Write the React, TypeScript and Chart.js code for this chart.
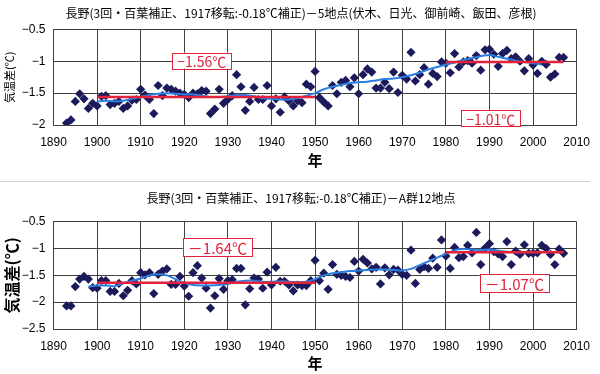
import React, { useEffect, useRef } from 'react';
import { Chart, registerables } from 'chart.js';
Chart.register(...registerables);

// ---------- data ----------
const years = [
  1893, 1894, 1895, 1896, 1897, 1898, 1899, 1900, 1901, 1902, 1903, 1904, 1905, 1906, 1907, 1908, 1909,
  1910, 1911, 1912, 1913, 1914, 1915, 1916, 1917, 1918, 1919, 1920, 1921, 1922, 1923, 1924, 1925, 1926,
  1927, 1928, 1929, 1930, 1931, 1932, 1933, 1934, 1935, 1936, 1937, 1938, 1939, 1940, 1941, 1942, 1943,
  1944, 1945, 1946, 1947, 1948, 1949, 1950, 1951, 1952, 1953, 1954, 1955, 1956, 1957, 1958, 1959, 1960,
  1961, 1962, 1963, 1964, 1965, 1966, 1967, 1968, 1969, 1970, 1971, 1972, 1973, 1974, 1975, 1976, 1977,
  1978, 1979, 1980, 1981, 1982, 1983, 1984, 1985, 1986, 1987, 1988, 1989, 1990, 1991, 1992, 1993, 1994,
  1995, 1996, 1997, 1998, 1999, 2000, 2001, 2002, 2003, 2004, 2005, 2006, 2007,
];

// 長野 − 5地点
const diffFive = [
  -1.97, -1.92, -1.63, -1.51, -1.59, -1.74, -1.66, -1.70, -1.55, -1.54, -1.68, -1.66, -1.63, -1.74, -1.70, -1.61, -1.60,
  -1.44, -1.53, -1.60, -1.82, -1.38, -1.54, -1.42, -1.44, -1.47, -1.50, -1.52, -1.57, -1.50, -1.51, -1.46, -1.47, -1.82,
  -1.75, -1.44, -1.66, -1.60, -1.54, -1.21, -1.40, -1.77, -1.63, -1.41, -1.60, -1.60, -1.38, -1.70, -1.59, -1.80, -1.56,
  -1.62, -1.70, -1.62, -1.65, -1.36, -1.40, -1.16, -1.57, -1.64, -1.70, -1.38, -1.51, -1.33, -1.30, -1.40, -1.26, -1.51,
  -1.21, -1.12, -1.17, -1.42, -1.42, -1.33, -1.43, -1.17, -1.49, -1.22, -1.28, -0.86, -1.31, -1.21, -1.10, -1.36, -1.19,
  -1.24, -1.01, -1.03, -1.18, -0.88, -1.09, -1.01, -0.99, -1.03, -0.91, -1.14, -0.82, -0.81, -0.89, -1.08, -0.88, -0.83,
  -0.96, -0.93, -1.00, -1.15, -0.96, -1.06, -1.19, -1.00, -1.05, -1.25, -1.20, -0.94, -0.94,
];

// 長野 − A群12地点
const diffA12 = [
  -2.07, -2.07, -1.71, -1.57, -1.52, -1.57, -1.73, -1.74, -1.60, -1.60, -1.80, -1.80, -1.65, -1.88, -1.78, -1.60, -1.66,
  -1.45, -1.49, -1.45, -1.84, -1.48, -1.42, -1.38, -1.67, -1.67, -1.52, -1.70, -1.89, -1.45, -1.32, -1.55, -1.74, -2.11,
  -1.88, -1.56, -1.76, -1.60, -1.58, -1.37, -1.37, -2.05, -1.75, -1.55, -1.57, -1.74, -1.44, -1.68, -1.35, -1.61, -1.61,
  -1.68, -1.79, -1.68, -1.69, -1.69, -1.60, -1.22, -1.60, -1.46, -1.76, -1.30, -1.48, -1.50, -1.52, -1.54, -1.24, -1.42,
  -1.20, -1.27, -1.38, -1.35, -1.66, -1.36, -1.49, -1.39, -1.40, -1.48, -1.50, -1.03, -1.65, -1.39, -1.34, -1.37, -1.18,
  -1.35, -0.84, -1.14, -1.37, -0.98, -1.17, -1.15, -0.94, -1.08, -0.70, -1.30, -0.99, -0.91, -1.06, -1.10, -1.15, -0.87,
  -1.30, -1.05, -1.11, -0.93, -1.09, -1.09, -1.08, -0.94, -1.00, -1.11, -1.30, -1.01, -1.09,
];

// smoothed (blue) curves
const smoothYearsFive = [
  1900, 1902, 1904, 1906, 1908, 1910, 1912, 1914, 1916, 1918, 1920, 1922, 1924, 1926, 1928, 1930, 1932, 1934,
  1936, 1938, 1940, 1942, 1944, 1946, 1948, 1950, 1952, 1954, 1956, 1958, 1960, 1962, 1964, 1966, 1968, 1970,
  1972, 1974, 1976, 1978, 1980, 1982, 1984, 1986, 1988, 1990, 1992, 1994, 1996, 1998, 2000, 2002,
];
const smoothFive = [
  -1.63, -1.62, -1.63, -1.62, -1.59, -1.56, -1.53, -1.51, -1.50, -1.51, -1.52, -1.52, -1.54, -1.56, -1.56, -1.55, -1.53, -1.53,
  -1.55, -1.58, -1.59, -1.60, -1.60, -1.58, -1.54, -1.50, -1.44, -1.40, -1.37, -1.34, -1.33, -1.32, -1.30, -1.28, -1.27, -1.25,
  -1.22, -1.18, -1.13, -1.09, -1.05, -1.02, -0.98, -0.95, -0.92, -0.90, -0.93, -0.96, -0.99, -1.01, -1.03, -1.05,
];
const smoothYearsA12 = [
  1898, 1900, 1902, 1904, 1906, 1908, 1910, 1912, 1914, 1916, 1918, 1920, 1922, 1924, 1926, 1928, 1930, 1932,
  1934, 1936, 1938, 1940, 1942, 1944, 1946, 1948, 1950, 1952, 1954, 1956, 1958, 1960, 1962, 1964, 1966, 1968,
  1970, 1972, 1974, 1976, 1978, 1980, 1982, 1984, 1986, 1988, 1990, 1992, 1994, 1996, 1998, 2000, 2002,
];
const smoothA12 = [
  -1.71, -1.69, -1.69, -1.70, -1.65, -1.60, -1.56, -1.50, -1.48, -1.50, -1.57, -1.64, -1.68, -1.69, -1.69, -1.68, -1.66, -1.62,
  -1.60, -1.60, -1.62, -1.62, -1.61, -1.62, -1.63, -1.62, -1.57, -1.50, -1.46, -1.44, -1.42, -1.41, -1.40, -1.39, -1.39, -1.40,
  -1.41, -1.38, -1.31, -1.24, -1.17, -1.10, -1.03, -1.01, -1.02, -1.03, -1.02, -1.04, -1.06, -1.07, -1.07, -1.07, -1.06,
];

// period means (red)
const meanPeriodStart = [1900, 1980];
const meanPeriodEnd = [1950, 2007];
const meansFive = [-1.56, -1.01];
const meansA12 = [-1.64, -1.07];
const meanLabelsFive = ['−1.56℃', '−1.01℃'];
const meanLabelsA12 = ['－1.64℃', '－1.07℃'];

const yTicksFive = [-2, -1.5, -1, -0.5];
const yTicksA12 = [-2.5, -2, -1.5, -1, -0.5];

const TITLE_FIVE = '長野(3回・百葉補正、1917移転:-0.18℃補正)－5地点(伏木、日光、御前崎、飯田、彦根)';
const TITLE_A12 = '長野(3回・百葉補正、1917移転:-0.18℃補正)－A群12地点';

// ---------- styles ----------
const CJK = '"Noto Sans CJK JP", "Noto Sans", sans-serif';
const LATIN = '"Liberation Sans", Arial, sans-serif';
const NAVY = '#1b1b5c';
const RED = '#e3223c';
const BLUE = '#2b7fe3';
const GRID = '#404040';
const PAD_LEFT = 20;
const PLOT_LEFT = 53.5;

const fmtY = (v: number) => {
  const s = String(Math.abs(v));
  return v < 0 ? '−' + s : s;
};

const labelPlugin = {
  id: 'meanLabels',
  afterDatasetsDraw(chart: any, _args: any, opts: any) {
    const { ctx } = chart;
    const xs = chart.scales.x;
    const ys = chart.scales.y;
    (opts.items || []).forEach((it: any) => {
      ctx.save();
      ctx.font = `${opts.size}px ${CJK}`;
      const tw = ctx.measureText(it.text).width;
      const w = tw + opts.padX * 2;
      const h = opts.boxH;
      const cx = xs.getPixelForValue(it.x);
      const cy = ys.getPixelForValue(it.y);
      ctx.fillStyle = '#ffffff';
      ctx.fillRect(cx - w / 2, cy - h / 2, w, h);
      ctx.strokeStyle = RED;
      ctx.lineWidth = 1;
      ctx.strokeRect(Math.round(cx - w / 2) + 0.5, Math.round(cy - h / 2) + 0.5, Math.round(w), Math.round(h));
      ctx.fillStyle = RED;
      ctx.textAlign = 'center';
      ctx.textBaseline = 'middle';
      ctx.fillText(it.text, cx, cy + 1);
      ctx.restore();
    });
  },
};

function makeConfig(p: any) {
  const pts = years.map((yr, i) => ({ x: yr, y: p.values[i] }));
  const smooth = p.smoothYears.map((yr: number, i: number) => ({ x: yr, y: p.smooth[i] }));
  const meanSets = p.means.map((m: number, i: number) => ({
    type: 'line',
    data: [
      { x: meanPeriodStart[i], y: m },
      { x: meanPeriodEnd[i], y: m },
    ],
    borderColor: RED,
    borderWidth: 2.5,
    pointRadius: 0,
    order: 1,
  }));
  const yTitleLH = p.yTitleSize * 1.2;
  return {
    type: 'line',
    data: {
      datasets: [
        {
          data: pts,
          showLine: false,
          pointStyle: 'rectRot',
          pointRadius: 4.6,
          pointBackgroundColor: NAVY,
          pointBorderColor: NAVY,
          pointBorderWidth: 0,
          order: 3,
        },
        {
          data: smooth,
          borderColor: BLUE,
          borderWidth: 2,
          pointRadius: 0,
          tension: 0.3,
          order: 2,
        },
        ...meanSets,
      ],
    },
    plugins: [labelPlugin],
    options: {
      animation: false,
      responsive: false,
      devicePixelRatio: 1,
      layout: { padding: { left: PAD_LEFT, right: 18, top: 0, bottom: 0 } },
      plugins: {
        legend: { display: false },
        tooltip: { enabled: false },
        title: {
          display: true,
          text: p.title,
          color: '#000',
          font: { family: CJK, size: 12, weight: 'normal' },
          padding: { top: p.titlePadTop, bottom: p.titlePadBottom },
        },
        meanLabels: {
          items: p.labelPos.map((lp: number[], i: number) => ({ x: lp[0], y: lp[1], text: p.labels[i] })),
          size: p.labelSize,
          padX: 5,
          boxH: p.labelBoxH,
        },
      },
      scales: {
        x: {
          type: 'linear',
          min: 1890,
          max: 2010,
          afterFit: (s: any) => {
            s.height = p.xHeight;
          },
          ticks: {
            stepSize: 10,
            padding: 10,
            color: '#000',
            maxRotation: 0,
            autoSkip: false,
            font: { family: LATIN, size: 12 },
            callback: (v: any) => String(v),
          },
          grid: { color: GRID, lineWidth: 1, drawTicks: false },
          border: { color: GRID, width: 1 },
          title: {
            display: true,
            text: '年',
            color: '#000',
            font: { family: CJK, size: 15, weight: 'bold' },
            padding: { top: 0, bottom: p.xTitlePadBottom },
          },
        },
        y: {
          type: 'linear',
          min: p.yTicks[0],
          max: p.yTicks[p.yTicks.length - 1],
          afterFit: (s: any) => {
            s.width = PLOT_LEFT - PAD_LEFT;
          },
          afterBuildTicks: (s: any) => {
            s.ticks = p.yTicks.map((v: number) => ({ value: v }));
          },
          ticks: {
            padding: 8,
            color: '#000',
            font: { family: LATIN, size: 12 },
            callback: (v: any) => fmtY(Number(v)),
          },
          grid: { color: GRID, lineWidth: 1, drawTicks: false },
          border: { color: GRID, width: 1 },
          title: {
            display: true,
            text: '気温差(℃)',
            color: '#000',
            font: { family: CJK, size: p.yTitleSize, weight: p.yTitleWeight },
            padding: { top: p.yTitleX - PAD_LEFT - yTitleLH / 2, bottom: 0 },
          },
        },
      },
    },
  };
}

export default function App() {
  const topRef = useRef<HTMLCanvasElement>(null);
  const botRef = useRef<HTMLCanvasElement>(null);

  useEffect(() => {
    document.body.style.margin = '0';
    const top = new Chart(
      topRef.current as HTMLCanvasElement,
      makeConfig({
        title: TITLE_FIVE,
        values: diffFive,
        smoothYears: smoothYearsFive,
        smooth: smoothFive,
        means: meansFive,
        labels: meanLabelsFive,
        labelPos: [
          [1924, -0.99],
          [1990.3, -1.895],
        ],
        labelSize: 14,
        labelBoxH: 16,
        yTicks: yTicksFive,
        titlePadTop: 6,
        titlePadBottom: 9,
        xHeight: 56,
        xTitlePadBottom: 12,
        yTitleSize: 11,
        yTitleWeight: 'normal',
        yTitleX: 10,
      }) as any
    );
    const bot = new Chart(
      botRef.current as HTMLCanvasElement,
      makeConfig({
        title: TITLE_A12,
        values: diffA12,
        smoothYears: smoothYearsA12,
        smooth: smoothA12,
        means: meansA12,
        labels: meanLabelsA12,
        labelPos: [
          [1927.6, -0.98],
          [1995.7, -1.64],
        ],
        labelSize: 15,
        labelBoxH: 18,
        yTicks: yTicksA12,
        titlePadTop: 9,
        titlePadBottom: 16.3,
        xHeight: 45,
        xTitlePadBottom: 2,
        yTitleSize: 16,
        yTitleWeight: 'bold',
        yTitleX: 12,
      }) as any
    );
    return () => {
      top.destroy();
      bot.destroy();
    };
  }, []);

  return (
    <div style={{ position: 'absolute', left: 0, top: 0, width: 600, height: 374, background: '#fff' }}>
      <canvas ref={topRef} width={600} height={181} style={{ position: 'absolute', left: 0, top: 0 }} />
      <div style={{ position: 'absolute', left: 0, top: 181, width: 590, height: 1, background: '#cfcfcf' }} />
      <canvas ref={botRef} width={600} height={192} style={{ position: 'absolute', left: 0, top: 182 }} />
    </div>
  );
}
